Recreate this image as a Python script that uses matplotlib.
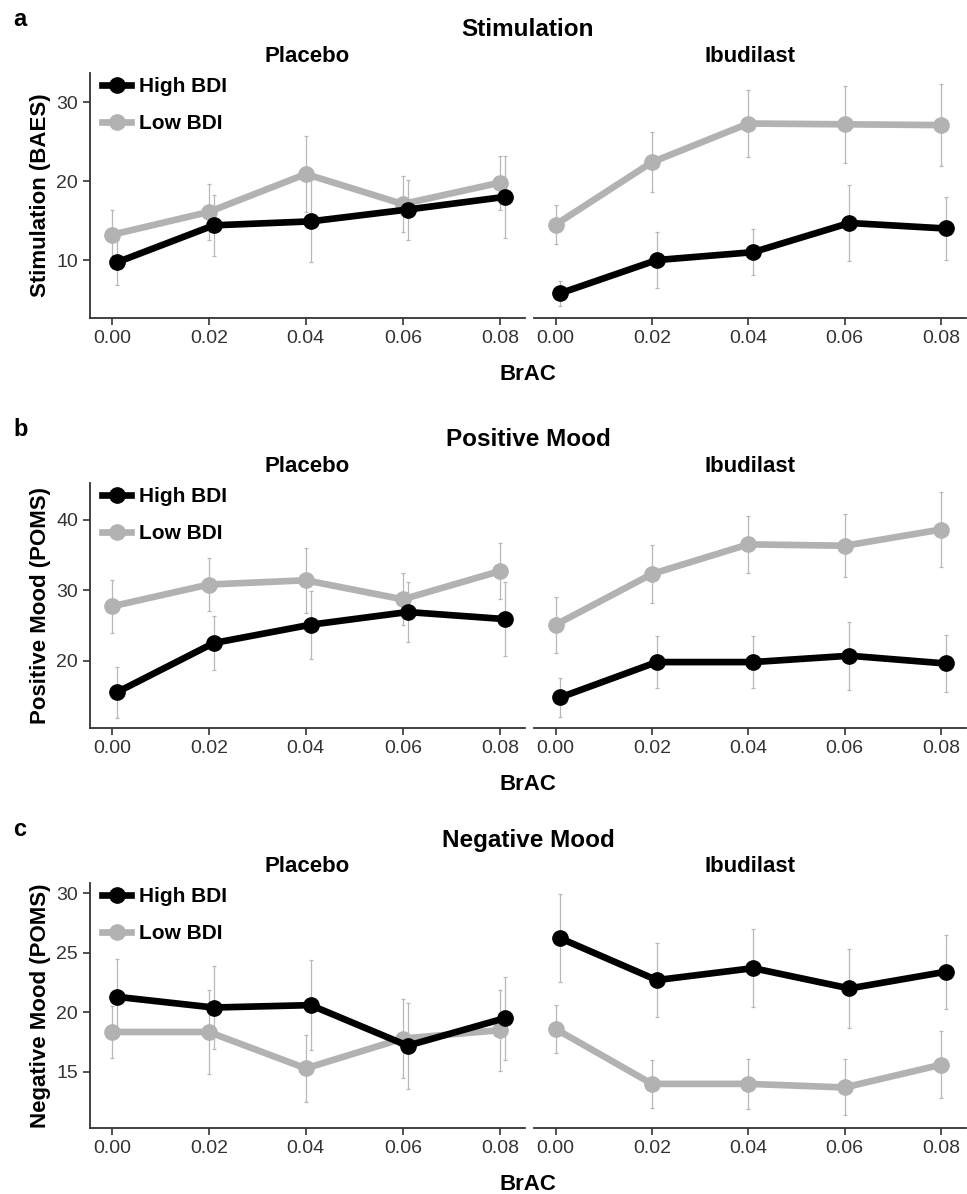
import numpy as np
import matplotlib
matplotlib.use("Agg")
import matplotlib.pyplot as plt

plt.rcParams['font.family'] = ['Liberation Sans', 'DejaVu Sans']

# data
brac = [0.00, 0.02, 0.04, 0.06, 0.08]
tick_labels = ["0.00", "0.02", "0.04", "0.06", "0.08"]
groups = ["High BDI", "Low BDI"]
drugs = ["Placebo", "Ibudilast"]

# stimulation (BAES)
stim_plac_high = [9.7, 14.4, 14.9, 16.4, 18.0]
stim_plac_high_err = [2.8, 3.9, 5.2, 3.8, 5.2]
stim_plac_low = [13.2, 16.1, 20.9, 17.1, 19.8]
stim_plac_low_err = [3.1, 3.5, 4.8, 3.5, 3.4]
stim_ibud_high = [5.8, 10.0, 11.0, 14.7, 14.0]
stim_ibud_high_err = [1.6, 3.6, 2.9, 4.8, 4.0]
stim_ibud_low = [14.5, 22.4, 27.3, 27.2, 27.1]
stim_ibud_low_err = [2.5, 3.8, 4.3, 4.9, 5.2]

# positive mood (POMS)
pos_plac_high = [15.5, 22.5, 25.1, 26.9, 25.9]
pos_plac_high_err = [3.6, 3.8, 4.8, 4.2, 5.2]
pos_plac_low = [27.7, 30.8, 31.4, 28.7, 32.7]
pos_plac_low_err = [3.8, 3.8, 4.6, 3.7, 4.0]
pos_ibud_high = [14.8, 19.8, 19.8, 20.7, 19.6]
pos_ibud_high_err = [2.8, 3.7, 3.7, 4.8, 4.1]
pos_ibud_low = [25.1, 32.3, 36.5, 36.3, 38.6]
pos_ibud_low_err = [4.0, 4.1, 4.0, 4.5, 5.3]

# negative mood (POMS)
neg_plac_high = [21.3, 20.4, 20.6, 17.2, 19.5]
neg_plac_high_err = [3.2, 3.5, 3.8, 3.6, 3.5]
neg_plac_low = [18.35, 18.35, 15.3, 17.8, 18.5]
neg_plac_low_err = [2.2, 3.5, 2.8, 3.3, 3.4]
neg_ibud_high = [26.2, 22.7, 23.7, 22.0, 23.4]
neg_ibud_high_err = [3.7, 3.1, 3.25, 3.3, 3.1]
neg_ibud_low = [18.6, 14.0, 14.0, 13.7, 15.6]
neg_ibud_low_err = [2.0, 2.0, 2.1, 2.35, 2.8]

panels = [
    ("a", "Stimulation", "Stimulation (BAES)", (2.66, 33.7), [10, 20, 30],
     [(stim_plac_high, stim_plac_high_err, stim_plac_low, stim_plac_low_err),
      (stim_ibud_high, stim_ibud_high_err, stim_ibud_low, stim_ibud_low_err)]),
    ("b", "Positive Mood", "Positive Mood (POMS)", (10.45, 45.2), [20, 30, 40],
     [(pos_plac_high, pos_plac_high_err, pos_plac_low, pos_plac_low_err),
      (pos_ibud_high, pos_ibud_high_err, pos_ibud_low, pos_ibud_low_err)]),
    ("c", "Negative Mood", "Negative Mood (POMS)", (10.3, 30.84), [15, 20, 25, 30],
     [(neg_plac_high, neg_plac_high_err, neg_plac_low, neg_plac_low_err),
      (neg_ibud_high, neg_ibud_high_err, neg_ibud_low, neg_ibud_low_err)]),
]

W, H = 967, 1194
fig = plt.figure(figsize=(W / 100, H / 100), dpi=100)

# axes boxes in pixels: (left, right), bottom y of each row
cols = [(90, 525), (534, 966)]
row_bottom = [318, 728, 1128]
row_h = 245

black = "#000000"
grey = "#b2b2b2"
err_col = "#b8b8b8"
dark = "#333333"
dodge = 0.001

x = np.array(brac)

for r, (letter, title, ylab, ylim, yticks, data) in enumerate(panels):
    yb = row_bottom[r]
    ytop = yb - row_h
    for c, (x0, x1) in enumerate(cols):
        ax = fig.add_axes([x0 / W, 1 - yb / H, (x1 - x0) / W, row_h / H])
        hi, hi_err, lo, lo_err = data[c]

        # error bars first, then lines
        ax.errorbar(x, lo, yerr=lo_err, fmt="none", ecolor=err_col, elinewidth=0.9,
                    capsize=1.5, capthick=0.9, zorder=1)
        ax.errorbar(x + dodge, hi, yerr=hi_err, fmt="none", ecolor=err_col, elinewidth=0.9,
                    capsize=1.5, capthick=0.9, zorder=1)
        l_lo, = ax.plot(x, lo, color=grey, lw=4.8, marker="o", ms=11, zorder=2, label=groups[1])
        l_hi, = ax.plot(x + dodge, hi, color=black, lw=4.8, marker="o", ms=11, zorder=3, label=groups[0])

        ax.set_xlim(-0.0045, 0.0852)
        ax.set_ylim(*ylim)
        ax.set_xticks(brac)
        ax.set_xticklabels(tick_labels)
        ax.tick_params(axis="both", labelsize=14, colors=dark, length=5, width=1.2,
                       labelcolor=dark)
        for s in ["top", "right"]:
            ax.spines[s].set_visible(False)
        ax.spines["bottom"].set_color(dark)
        ax.spines["bottom"].set_linewidth(1.3)
        if c == 0:
            ax.set_yticks(yticks)
            ax.spines["left"].set_color(dark)
            ax.spines["left"].set_linewidth(1.3)
            ax.set_ylabel(ylab, fontsize=16, fontweight="bold", labelpad=4)
            ax.legend(handles=[l_hi, l_lo], loc="upper left", frameon=False,
                      prop={"size": 15, "weight": "bold"}, handlelength=1.4,
                      borderaxespad=0.05, borderpad=0.2, labelspacing=0.84,
                      handletextpad=0.35, bbox_to_anchor=(0.016, 1.003))
        else:
            ax.spines["left"].set_visible(False)
            ax.set_yticks([])

        # facet label
        fig.text((x0 + x1) / 2 / W, 1 - (ytop - 17) / H, drugs[c], ha="center", va="center",
                 fontsize=16, fontweight="bold")

    fig.text(13 / W, 1 - (ytop - 53) / H, letter, ha="left", va="center", fontsize=17,
             fontweight="bold")
    fig.text(528 / W, 1 - (ytop - 43) / H, title, ha="center", va="center", fontsize=17.5,
             fontweight="bold")
    fig.text(528 / W, 1 - (yb + 57) / H, "BrAC", ha="center", va="center", fontsize=16,
             fontweight="bold")

fig.savefig("out.png", dpi=100)
